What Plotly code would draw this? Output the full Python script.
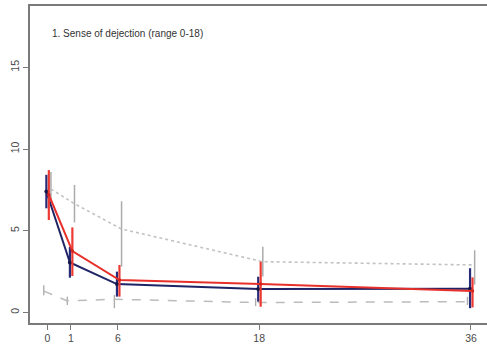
import plotly.graph_objects as go

# Follow-up time points (months) and where they sit on the x axis
time_labels = ["0", "1", "6", "18", "36"]
time_axis = [0, 2, 6, 18, 36]

# Group 1 (navy): mean score with lower / upper confidence limits
navy_mean = [7.40, 3.05, 1.73, 1.43, 1.45]
navy_low = [6.37, 2.12, 0.96, 0.65, 0.25]
navy_high = [8.42, 4.00, 2.49, 2.18, 2.70]

# Group 2 (red)
red_mean = [7.20, 3.75, 1.98, 1.73, 1.30]
red_low = [5.65, 2.22, 0.96, 0.34, 0.30]
red_high = [8.71, 5.20, 2.90, 3.10, 2.14]

# Reference group, dotted grey
dotted_mean = [7.55, 6.65, 5.10, 3.10, 2.90]
dotted_low = [6.90, 5.50, 2.80, 2.20, 1.70]
dotted_high = [8.60, 7.80, 6.80, 4.02, 3.80]

# Reference group, dashed grey
dashed_mean = [1.30, 0.70, 0.80, 0.60, 0.65]
dashed_low = [1.05, 0.45, 0.25, 0.38, 0.45]
dashed_high = [1.65, 0.96, 1.06, 0.86, 0.95]


def shifted(offset):
    return [t + offset for t in time_axis]


def bars(mean, low, high):
    return dict(
        type="data",
        symmetric=False,
        array=[h - m for h, m in zip(high, mean)],
        arrayminus=[m - l for m, l in zip(mean, low)],
        width=0,
    )


fig = go.Figure()

fig.add_trace(go.Scatter(
    x=shifted(-0.30), y=dashed_mean, mode="lines",
    line=dict(color="#bcbcbc", width=1.5, dash="dash"),
    error_y=dict(bars(dashed_mean, dashed_low, dashed_high), color="#adadad", thickness=1.4),
    hoverinfo="skip", showlegend=False,
))
fig.add_trace(go.Scatter(
    x=shifted(0.31), y=dotted_mean, mode="lines",
    line=dict(color="#c2c2c2", width=1.6, dash="dot"),
    error_y=dict(bars(dotted_mean, dotted_low, dotted_high), color="#ababab", thickness=1.5),
    hoverinfo="skip", showlegend=False,
))
fig.add_trace(go.Scatter(
    x=shifted(-0.08), y=navy_mean, mode="lines+markers",
    line=dict(color="#1f2466", width=2),
    marker=dict(color="#141845", size=4),
    error_y=dict(bars(navy_mean, navy_low, navy_high), color="#262b78", thickness=2.2),
    hoverinfo="skip", showlegend=False,
))
fig.add_trace(go.Scatter(
    x=shifted(0.13), y=red_mean, mode="lines+markers",
    line=dict(color="#e8302a", width=2),
    marker=dict(color="#d42520", size=3.5),
    error_y=dict(bars(red_mean, red_low, red_high), color="#ec3a33", thickness=2.2),
    hoverinfo="skip", showlegend=False,
))

fig.add_annotation(
    x=0.23, y=17.1, xref="x", yref="y",
    text="1. Sense of dejection (range 0-18)",
    showarrow=False, xanchor="left", yanchor="middle",
    font=dict(family="Liberation Sans, Arial, sans-serif", size=10, color="#333333"),
)

axis_font = dict(family="Liberation Sans, Arial, sans-serif", size=10.5, color="#4a4a4a")

fig.update_xaxes(
    range=[-1.47, 37.36],
    tickmode="array", tickvals=time_axis, ticktext=time_labels,
    showline=True, linecolor="#7a7a7a", linewidth=1.5, mirror=True,
    ticks="outside", ticklen=5, tickcolor="#7a7a7a", tickwidth=1,
    showgrid=False, zeroline=False, tickfont=axis_font,
)
fig.update_yaxes(
    range=[-0.655, 18.76],
    tickmode="array", tickvals=[0, 5, 10, 15], ticktext=["0", "5", "10", "15"],
    tickangle=-90,
    showline=True, linecolor="#7a7a7a", linewidth=1.5,
    ticks="outside", ticklen=5, tickcolor="#7a7a7a", tickwidth=1,
    showgrid=False, zeroline=False, tickfont=axis_font,
)

fig.update_layout(
    width=487, height=345,
    margin=dict(l=30, r=0, t=6, b=22),
    paper_bgcolor="white", plot_bgcolor="white",
)

fig.write_html("out.html")
